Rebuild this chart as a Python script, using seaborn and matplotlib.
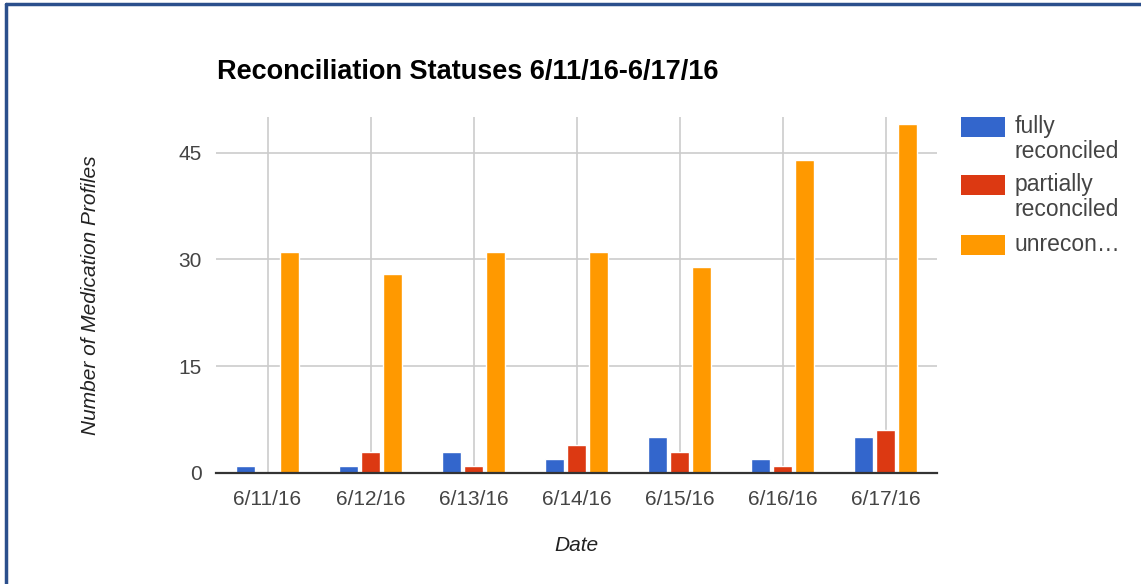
import matplotlib
matplotlib.use("Agg")
import matplotlib.pyplot as plt
import seaborn as sns
import pandas as pd
from matplotlib.patches import Rectangle
from matplotlib.lines import Line2D

dates = ["6/11/16", "6/12/16", "6/13/16", "6/14/16", "6/15/16", "6/16/16", "6/17/16"]
fully = [1, 1, 3, 2, 5, 2, 5]
partially = [0, 3, 1, 4, 3, 1, 6]
unreconciled = [31, 28, 31, 31, 29, 44, 49]
series_names = ["fully reconciled", "partially reconciled", "unreconciled"]
legend_labels = ["fully\nreconciled", "partially\nreconciled", "unrecon…"]
colors = ["#3366CC", "#DC3912", "#FF9900"]

rows = []
for name, vals in zip(series_names, [fully, partially, unreconciled]):
    for d, v in zip(dates, vals):
        rows.append({"Date": d, "Status": name, "Count": v})
df = pd.DataFrame(rows)

sns.set_theme(style="white")
plt.rcParams["font.family"] = ["Liberation Sans", "DejaVu Sans"]

W, H = 1141, 584
fig = plt.figure(figsize=(W / 100, H / 100), dpi=100)
ax = fig.add_axes([216 / W, 1 - 473 / H, (937 - 216) / W, (473 - 117) / H])

for y in [15, 30, 45]:
    ax.axhline(y, color="#cccccc", lw=1.2, zorder=0)
for i in range(len(dates)):
    ax.axvline(i, color="#cccccc", lw=1.2, zorder=0)

sns.barplot(data=df, x="Date", y="Count", hue="Status", palette=colors,
            width=0.64, gap=0.1, ax=ax, legend=False, zorder=2,
            saturation=1, err_kws={"linewidth": 0})

ax.set_xlim(-0.5, 6.5)
ax.set_ylim(0, 50)
ax.set_yticks([0, 15, 30, 45])
ax.tick_params(axis="both", length=0, labelsize=15, colors="#444444", pad=10)
ax.tick_params(axis="x", pad=12)
for s in ["top", "right", "left"]:
    ax.spines[s].set_visible(False)
ax.spines["bottom"].set_color("#333333")
ax.spines["bottom"].set_linewidth(1.6)
ax.spines["bottom"].set_zorder(3)

ax.set_xlabel("Date", fontsize=15, style="italic", color="#222222", labelpad=20)
ax.set_ylabel("Number of Medication Profiles", fontsize=15, style="italic", color="#222222", labelpad=57)

fig.text(217 / W, 1 - 72 / H, "Reconciliation Statuses 6/11/16-6/17/16",
         fontsize=19.5, fontweight="bold", color="#000000", va="center", ha="left")

# legend (drawn manually to match swatch/first-line alignment)
swatch_tops = [117, 175, 235]
for c, lab, top in zip(colors, legend_labels, swatch_tops):
    fig.patches.append(Rectangle((961 / W, 1 - (top + 20) / H), 44 / W, 20 / H,
                                 transform=fig.transFigure, facecolor=c,
                                 edgecolor="none"))
    fig.text(1015 / W, 1 - (top - 2) / H, lab, fontsize=16.5, color="#444444",
             va="top", ha="left", linespacing=1.12)

# border: top and left only
fig.add_artist(Line2D([6 / W, 1], [1 - 4 / H, 1 - 4 / H], transform=fig.transFigure,
                      color="#2B4F8C", lw=2.5))
fig.add_artist(Line2D([6 / W, 6 / W], [0, 1 - 4 / H], transform=fig.transFigure,
                      color="#2B4F8C", lw=2.5))

fig.savefig("out.png", dpi=100, facecolor="white")
